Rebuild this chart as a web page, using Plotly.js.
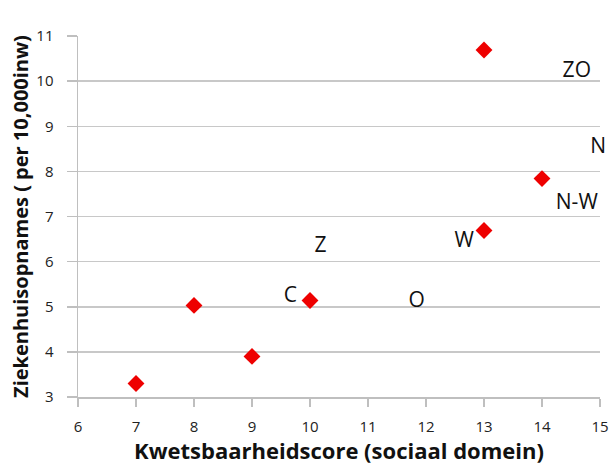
<!DOCTYPE html>
<html>
<head>
<meta charset="utf-8">
<script src="https://cdn.plot.ly/plotly-3.0.1.min.js"></script>
<style>html,body{margin:0;padding:0;background:#fff;}#chart{width:612px;height:470px;}</style>
</head>
<body>
<div id="chart"></div>
<script>
// Data
var scoreX = [7, 8, 9, 10, 13, 13, 14];
var opnamesY = [3.30, 5.03, 3.90, 5.14, 10.69, 6.69, 7.84];

var regionLabels = ["ZO", "N", "N-W", "W", "Z", "C", "O"];
var labelX = [14.6, 14.97, 14.6, 12.66, 10.18, 9.66, 11.84];
var labelY = [10.21, 8.52, 7.29, 6.44, 6.33, 5.22, 5.11];

var xTicks = [6, 7, 8, 9, 10, 11, 12, 13, 14, 15];
var yTicks = [3, 4, 5, 6, 7, 8, 9, 10, 11];

var traces = [
  {
    x: scoreX, y: opnamesY, type: 'scatter', mode: 'markers',
    marker: {symbol: 'diamond', size: 13, color: '#ee0000'},
    hoverinfo: 'skip', cliponaxis: false
  },
  {
    x: labelX, y: labelY, type: 'scatter', mode: 'text',
    text: regionLabels, textposition: 'middle center',
    textfont: {family: 'Open Sans, sans-serif', size: 21, color: '#111'},
    hoverinfo: 'skip', cliponaxis: false
  }
];

var layout = {
  width: 612, height: 470,
  margin: {l: 78, r: 12, t: 36, b: 73},
  paper_bgcolor: '#fff', plot_bgcolor: '#fff',
  showlegend: false,
  font: {family: 'Open Sans, sans-serif', color: '#222'},
  xaxis: {
    range: [6, 15], tickvals: xTicks, ticktext: xTicks.map(String),
    showgrid: false, zeroline: false,
    showline: true, linecolor: '#bfbfbf', linewidth: 1.5,
    ticks: 'outside', ticklen: 8, tickcolor: '#bfbfbf', tickwidth: 1.5,
    ticklabelstandoff: 7,
    tickfont: {size: 15, color: '#222'},
    title: {text: 'Kwetsbaarheidscore (sociaal domein)', standoff: 2,
            font: {family: 'Open Sans, sans-serif', size: 22, color: '#111', weight: 'bold'}}
  },
  yaxis: {
    range: [3, 11], tickvals: yTicks, ticktext: yTicks.map(String),
    showgrid: true, gridcolor: '#c8c8c8', gridwidth: 1.5, zeroline: false,
    showline: true, linecolor: '#bfbfbf', linewidth: 1.5,
    ticks: 'outside', ticklen: 10, tickcolor: '#bfbfbf', tickwidth: 1.5,
    ticklabelstandoff: 10,
    tickfont: {size: 15, color: '#222'},
    title: {text: 'Ziekenhuisopnames ( per 10,000inw)', standoff: 2,
            font: {family: 'Open Sans, sans-serif', size: 20, color: '#111', weight: 'bold'}}
  }
};

Plotly.newPlot('chart', traces, layout, {displayModeBar: false, staticPlot: true});
</script>
</body>
</html>
